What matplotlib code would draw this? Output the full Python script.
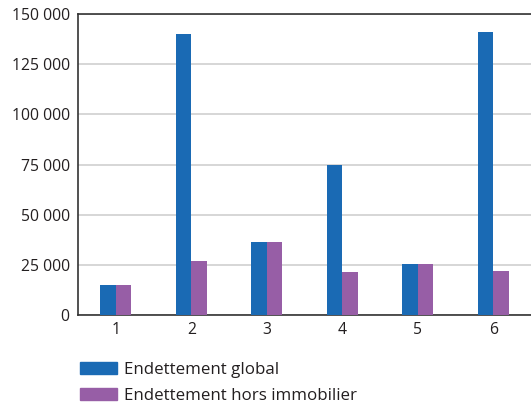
import numpy as np
import matplotlib
matplotlib.use("Agg")
import matplotlib.pyplot as plt
from matplotlib.ticker import FuncFormatter
from matplotlib.patches import Patch

categories = ["1", "2", "3", "4", "5", "6"]
global_debt = [15000, 140000, 36500, 75000, 25500, 141000]
non_property_debt = [15000, 27000, 36500, 21500, 25500, 22000]
series_labels = ["Endettement global", "Endettement hors immobilier"]
yticks = [0, 25000, 50000, 75000, 100000, 125000, 150000]

blue = "#1a6ab4"
purple = "#975ea6"
text_color = "#231f20"

plt.rcParams["font.family"] = ["Open Sans", "DejaVu Sans"]

fig = plt.figure(figsize=(5.31, 4.03), dpi=100)
ax = fig.add_axes([0.147, 0.218, 0.853, 0.747])

x = np.arange(1, len(categories) + 1)
w = 0.205
ax.bar(x - w / 2, global_debt, width=w, color=blue, zorder=3)
ax.bar(x + w / 2, non_property_debt, width=w, color=purple, zorder=3)

ax.set_xlim(0.5, 6.5)
ax.set_ylim(0, 150000)
ax.set_xticks(x)
ax.set_xticklabels(categories)
ax.set_yticks(yticks)
ax.yaxis.set_major_formatter(FuncFormatter(lambda v, p: f"{int(v):,}".replace(",", " ")))
ax.tick_params(length=0, labelsize=11.3, colors=text_color, pad=6)
ax.tick_params(axis="x", pad=5)

ax.grid(axis="y", color="#d0d0d0", linewidth=1.2, zorder=0)
for side in ["left", "bottom", "top"]:
    ax.spines[side].set_color("#333333")
    ax.spines[side].set_linewidth(1.2)
ax.spines["right"].set_visible(False)

# legend sits under the axes, left aligned with the plot
handles = [Patch(color=blue), Patch(color=purple)]
fig.legend(handles, series_labels, loc="upper left", bbox_to_anchor=(0.151, 0.101),
           frameon=False, fontsize=12.2, handlelength=2.2, handleheight=0.7,
           handletextpad=0.4, labelspacing=0.55, labelcolor=text_color,
           borderpad=0, borderaxespad=0)

fig.savefig("out.png", dpi=100)
